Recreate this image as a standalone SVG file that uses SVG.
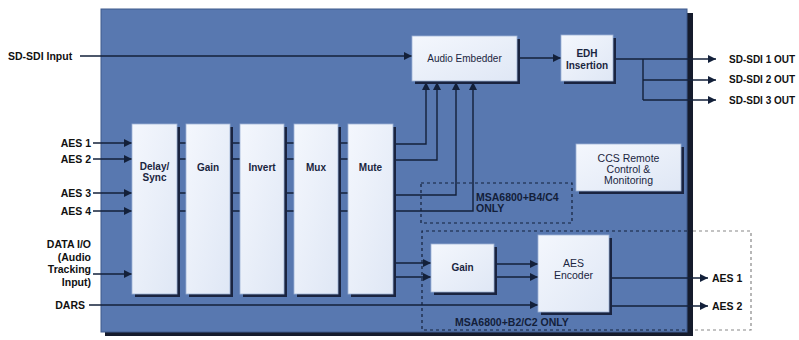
<svg xmlns="http://www.w3.org/2000/svg" width="799" height="340" viewBox="0 0 799 340">
<defs>
<marker id="ah" viewBox="0 0 10 10" refX="10" refY="5" markerWidth="9" markerHeight="8" markerUnits="userSpaceOnUse" orient="auto">
<path d="M0,0 L10,5 L0,10 Z" fill="#13203a"/>
</marker>
<linearGradient id="blk" x1="0" y1="0" x2="1" y2="1">
<stop offset="0" stop-color="#f4f7fd"/>
<stop offset="1" stop-color="#dfe7f5"/>
</linearGradient>
</defs>
<style>
.lbl{font-family:"Liberation Sans",Arial,sans-serif;font-weight:bold;font-size:10.5px;fill:#111}
.in{font-family:"Liberation Sans",Arial,sans-serif;font-weight:bold;font-size:10px;fill:#1a2540;text-anchor:middle}
.box{fill:url(#blk);stroke:#9fb3d6;stroke-width:0.8}
.sh{fill:#1a2440}
.wire{fill:none;stroke:#13203a;stroke-width:1.4}
.arr{fill:none;stroke:#13203a;stroke-width:1.4;marker-end:url(#ah)}
.dash{fill:none;stroke:#13203a;stroke-width:1.2;stroke-dasharray:3,3}
.dashg{fill:none;stroke:#888;stroke-width:1.2;stroke-dasharray:3,3}
</style>
<rect width="799" height="340" fill="#fff"/>
<!-- panel -->
<rect x="105" y="13" width="588" height="323" fill="#151b2c"/>
<rect x="101" y="9" width="586" height="323" fill="#5878b0" stroke="#3e5a8c" stroke-width="1"/>

<!-- dashed option areas -->
<rect class="dash" x="421" y="183" width="151" height="40"/>
<path class="dash" d="M687,231 H422 V330 H687"/>
<path class="dashg" d="M693,231 H751 V330 H693"/>

<g id="connectors">
<line class="arr" x1="80" y1="56" x2="412" y2="56"/>
<line class="arr" x1="517" y1="58" x2="561" y2="58"/>
<line class="arr" x1="613" y1="59" x2="716" y2="59"/>
<path class="wire" d="M643,59 V100"/>
<line class="arr" x1="643" y1="80" x2="716" y2="80"/>
<line class="arr" x1="643" y1="100" x2="716" y2="100"/>
<line class="arr" x1="93" y1="143" x2="132" y2="143"/>
<line class="arr" x1="93" y1="159" x2="132" y2="159"/>
<line class="arr" x1="93" y1="193" x2="132" y2="193"/>
<line class="arr" x1="93" y1="211" x2="132" y2="211"/>
<line class="arr" x1="93" y1="274" x2="132" y2="274"/>
<path class="wire" d="M177,143H186M177,159H186M177,193H186M177,211H186M230,143H240M230,159H240M230,193H240M230,211H240M284,143H294M284,159H294M284,193H294M284,211H294M338,143H348M338,159H348M338,193H348M338,211H348"/>
<path class="arr" d="M393,144 H426 V82"/>
<path class="arr" d="M393,160 H437 V82"/>
<path class="arr" d="M393,195 H456 V82"/>
<path class="arr" d="M393,211 H473 V82"/>
<line class="arr" x1="393" y1="263" x2="431" y2="263"/>
<line class="arr" x1="393" y1="277" x2="431" y2="277"/>
<line class="arr" x1="494" y1="264" x2="538" y2="264"/>
<line class="arr" x1="494" y1="277" x2="538" y2="277"/>
<line class="arr" x1="89" y1="305" x2="538" y2="305"/>
<line class="arr" x1="609" y1="278" x2="708" y2="278"/>
<line class="arr" x1="609" y1="306" x2="708" y2="306"/>
</g>

<g id="delay-sync">
<rect class="sh" x="135" y="127" width="45" height="170"/>
<rect class="box" x="132" y="124" width="45" height="170"/>
<text class="in" x="154.5" y="170">Delay/</text>
<text class="in" x="154.5" y="181">Sync</text>
</g>
<g id="gain1">
<rect class="sh" x="189" y="127" width="44" height="170"/>
<rect class="box" x="186" y="124" width="44" height="170"/>
<text class="in" x="208" y="171">Gain</text>
</g>
<g id="invert">
<rect class="sh" x="243" y="127" width="44" height="170"/>
<rect class="box" x="240" y="124" width="44" height="170"/>
<text class="in" x="262" y="171">Invert</text>
</g>
<g id="mux">
<rect class="sh" x="297" y="127" width="44" height="170"/>
<rect class="box" x="294" y="124" width="44" height="170"/>
<text class="in" x="316" y="171">Mux</text>
</g>
<g id="mute">
<rect class="sh" x="351" y="127" width="45" height="170"/>
<rect class="box" x="348" y="124" width="45" height="170"/>
<text class="in" x="370.5" y="171">Mute</text>
</g>
<g id="audio-embedder">
<rect class="sh" x="415" y="39" width="105" height="45"/>
<rect class="box" x="412" y="36" width="105" height="45"/>
<text class="in" x="464.5" y="62" style="font-weight:normal">Audio Embedder</text>
</g>
<g id="edh">
<rect class="sh" x="564" y="38" width="52" height="46"/>
<rect class="box" x="561" y="35" width="52" height="46"/>
<text class="in" x="587" y="57">EDH</text>
<text class="in" x="587" y="69">Insertion</text>
</g>
<g id="ccs">
<rect class="sh" x="579" y="147" width="105" height="47"/>
<rect class="box" x="576" y="144" width="105" height="47"/>
<text class="in" x="628.5" y="162" style="font-weight:normal;font-size:10.5px">CCS Remote</text>
<text class="in" x="628.5" y="173" style="font-weight:normal;font-size:10.5px">Control &amp;</text>
<text class="in" x="628.5" y="184" style="font-weight:normal;font-size:10.5px">Monitoring</text>
</g>
<g id="gain2">
<rect class="sh" x="434" y="247" width="63" height="48"/>
<rect class="box" x="431" y="244" width="63" height="48"/>
<text class="in" x="462.5" y="271">Gain</text>
</g>
<g id="aes-encoder">
<rect class="sh" x="541" y="238" width="71" height="77"/>
<rect class="box" x="538" y="235" width="71" height="77"/>
<text class="in" x="573.5" y="267" style="font-weight:normal;font-size:10.5px">AES</text>
<text class="in" x="573.5" y="279" style="font-weight:normal;font-size:10.5px">Encoder</text>
</g>

<g id="labels">
<text class="lbl" x="8" y="60">SD-SDI Input</text>
<text class="lbl" x="91" y="147" text-anchor="end">AES 1</text>
<text class="lbl" x="91" y="163" text-anchor="end">AES 2</text>
<text class="lbl" x="91" y="197" text-anchor="end">AES 3</text>
<text class="lbl" x="91" y="215" text-anchor="end">AES 4</text>
<text class="lbl" x="91" y="248" text-anchor="end">DATA I/O</text>
<text class="lbl" x="91" y="261" text-anchor="end">(Audio</text>
<text class="lbl" x="91" y="273" text-anchor="end">Tracking</text>
<text class="lbl" x="91" y="286" text-anchor="end">Input)</text>
<text class="lbl" x="85" y="309" text-anchor="end">DARS</text>
<text class="lbl" x="729" y="63" style="font-size:10px">SD-SDI 1 OUT</text>
<text class="lbl" x="729" y="83" style="font-size:10px">SD-SDI 2 OUT</text>
<text class="lbl" x="729" y="104" style="font-size:10px">SD-SDI 3 OUT</text>
<text class="lbl" x="712" y="282">AES 1</text>
<text class="lbl" x="712" y="310">AES 2</text>
<text class="lbl" x="476" y="201" style="fill:#13203a">MSA6800+B4/C4</text>
<text class="lbl" x="476" y="212" style="fill:#13203a">ONLY</text>
<text class="lbl" x="455" y="326" style="fill:#13203a">MSA6800+B2/C2 ONLY</text>
</g>
</svg>
